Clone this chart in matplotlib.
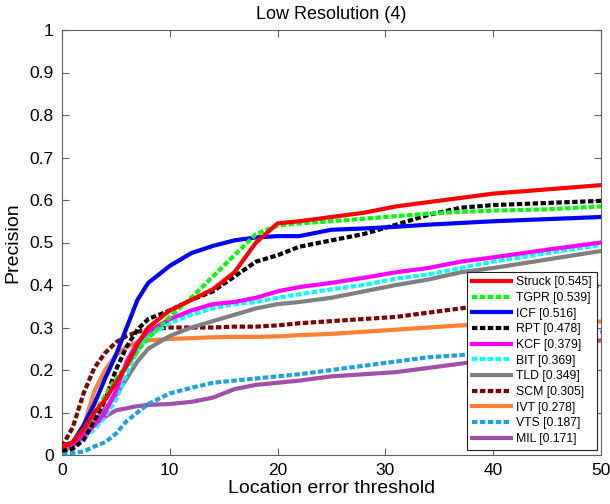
import numpy as np
import matplotlib.pyplot as plt

plt.rcParams['font.family'] = ['Liberation Sans', 'DejaVu Sans']

# location error thresholds where values were read
thr = [0, 1, 2, 3, 4, 5, 6, 7, 8, 10, 12, 14, 16, 18, 20, 22, 25, 28, 31, 34, 37, 40, 45, 50]

struck = [0.02, 0.03, 0.06, 0.10, 0.13, 0.17, 0.21, 0.26, 0.30, 0.34, 0.365, 0.39, 0.43, 0.50,
          0.545, 0.55, 0.56, 0.57, 0.585, 0.595, 0.605, 0.615, 0.625, 0.635]
tgpr = [0.02, 0.03, 0.06, 0.10, 0.14, 0.18, 0.21, 0.245, 0.275, 0.325, 0.37, 0.42, 0.47, 0.52,
        0.54, 0.545, 0.55, 0.556, 0.562, 0.568, 0.572, 0.575, 0.578, 0.585]
icf = [0.02, 0.03, 0.07, 0.12, 0.18, 0.235, 0.30, 0.365, 0.405, 0.445, 0.475, 0.492, 0.505, 0.512,
       0.515, 0.515, 0.53, 0.533, 0.537, 0.542, 0.546, 0.55, 0.555, 0.56]
rpt = [0.01, 0.015, 0.035, 0.08, 0.13, 0.20, 0.255, 0.295, 0.32, 0.34, 0.365, 0.385, 0.42, 0.455,
       0.47, 0.49, 0.505, 0.52, 0.542, 0.565, 0.582, 0.588, 0.593, 0.598]
kcf = [0.02, 0.025, 0.045, 0.07, 0.10, 0.15, 0.22, 0.265, 0.29, 0.32, 0.34, 0.355, 0.36, 0.37,
       0.385, 0.395, 0.405, 0.417, 0.43, 0.44, 0.455, 0.465, 0.483, 0.50]
bit = [0.02, 0.025, 0.04, 0.06, 0.09, 0.13, 0.19, 0.245, 0.28, 0.31, 0.33, 0.345, 0.355, 0.36,
       0.37, 0.378, 0.39, 0.40, 0.415, 0.425, 0.44, 0.455, 0.475, 0.494]
tld = [0.02, 0.03, 0.05, 0.08, 0.11, 0.14, 0.18, 0.22, 0.25, 0.28, 0.30, 0.315, 0.33, 0.345,
       0.355, 0.36, 0.37, 0.385, 0.40, 0.413, 0.43, 0.44, 0.46, 0.48]
scm = [0.02, 0.065, 0.145, 0.205, 0.24, 0.265, 0.28, 0.29, 0.295, 0.30, 0.30, 0.30, 0.302, 0.302,
       0.305, 0.31, 0.315, 0.32, 0.325, 0.335, 0.345, 0.355, 0.375, 0.40]
ivt = [0.01, 0.025, 0.066, 0.15, 0.20, 0.235, 0.255, 0.265, 0.27, 0.273, 0.275, 0.277, 0.278, 0.278,
       0.279, 0.282, 0.285, 0.29, 0.295, 0.30, 0.305, 0.307, 0.31, 0.314]
vts = [0.005, 0.005, 0.008, 0.02, 0.03, 0.05, 0.08, 0.10, 0.12, 0.145, 0.158, 0.17, 0.175, 0.18,
       0.185, 0.19, 0.20, 0.21, 0.22, 0.23, 0.235, 0.245, 0.265, 0.29]
mil = [0.01, 0.02, 0.04, 0.07, 0.09, 0.105, 0.11, 0.115, 0.118, 0.12, 0.125, 0.135, 0.155, 0.165,
       0.17, 0.175, 0.185, 0.19, 0.195, 0.205, 0.215, 0.225, 0.245, 0.27]

names = ['Struck [0.545]', 'TGPR [0.539]', 'ICF [0.516]', 'RPT [0.478]', 'KCF [0.379]',
         'BIT [0.369]', 'TLD [0.349]', 'SCM [0.305]', 'IVT [0.278]', 'VTS [0.187]', 'MIL [0.171]']
series = [struck, tgpr, icf, rpt, kcf, bit, tld, scm, ivt, vts, mil]
colors = ['#ff0000', '#00ff00', '#0000ff', '#000000', '#ff00ff', '#00ffff', '#808080',
          '#800000', '#ff8030', '#1ea0e6', '#a050a8']
dashed = [False, True, False, True, False, True, False, True, False, True, False]

fig = plt.figure(figsize=(6.1, 5.04), dpi=100)
ax = fig.add_axes([62 / 610, 49 / 504, 539 / 610, 425 / 504])

for i in range(len(series)):
    if dashed[i]:
        ax.plot(thr, series[i], color=colors[i], lw=3, linestyle=(0, (1.3, 0.6)),
                dash_capstyle='butt', label=names[i], zorder=20 - i)
    else:
        ax.plot(thr, series[i], color=colors[i], lw=3, label=names[i], zorder=20 - i)

ax.set_xlim(0, 50)
ax.set_ylim(0, 1)
ax.set_xticks(np.arange(0, 51, 10))
ax.set_yticks(np.arange(0, 1.01, 0.1))
ax.set_yticklabels(['0', '0.1', '0.2', '0.3', '0.4', '0.5', '0.6', '0.7', '0.8', '0.9', '1'])
ax.tick_params(direction='in', length=5, width=0.8, color='#606060', labelsize=12.5,
               top=True, right=True, pad=6)
for s in ax.spines.values():
    s.set_color('#606060')
    s.set_linewidth(0.8)

ax.set_title('Low Resolution (4)', fontsize=13, pad=8)
ax.set_xlabel('Location error threshold', fontsize=14, labelpad=1)
ax.set_ylabel('Precision', fontsize=14, labelpad=6)

leg = ax.legend(loc='lower right', bbox_to_anchor=(0.9926, 0.0118), borderaxespad=0,
                fontsize=8.8, handlelength=3.2, handletextpad=0.45, labelspacing=0.3,
                borderpad=0.4, fancybox=False, framealpha=1)
leg.get_frame().set_edgecolor('#202020')
leg.get_frame().set_linewidth(0.8)
leg.set_zorder(50)

fig.savefig('out.png', dpi=100)
